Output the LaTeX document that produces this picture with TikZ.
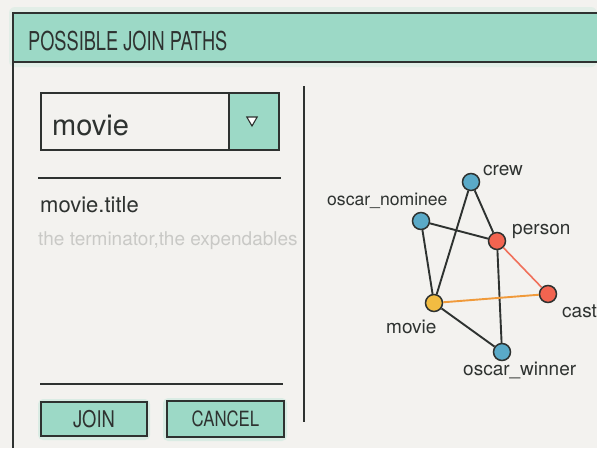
\documentclass[tikz,border=0pt]{standalone}
\usepackage{fontspec}
\newfontfamily\handfont{TeX Gyre Heros}
\newfontfamily\handnarrow[FakeStretch=0.8]{TeX Gyre Heros}
\newfontfamily\handtitle[FakeStretch=0.7]{TeX Gyre Heros}
\usetikzlibrary{shapes.geometric}

\definecolor{paper}{HTML}{F3F2EF}
\definecolor{inkc}{HTML}{2E3230}
\definecolor{teal}{HTML}{9CD9C6}
\definecolor{tealwash}{HTML}{C3E7DA}
\definecolor{greytext}{HTML}{C9C9C6}
\definecolor{tblblue}{HTML}{5AAAC8}
\definecolor{tblred}{HTML}{F26450}
\definecolor{tblyellow}{HTML}{F2BC42}
\definecolor{edgered}{HTML}{F0705A}
\definecolor{edgeorange}{HTML}{F09A3A}

\begin{document}
\begin{tikzpicture}[x=1pt, y=-1pt,
  ink/.style={draw=inkc, line width=1.6pt},
  thinink/.style={draw=inkc, line width=1.3pt},
  tbl/.style={circle, draw=inkc, line width=1.5pt, minimum size=17pt, inner sep=0pt},
  lbl/.style={font=\handfont\fontsize{19}{22}\selectfont, text=inkc, inner sep=0pt, anchor=base west},
  edge/.style={draw=inkc, line width=1.9pt},
  btnbox/.style={draw=inkc, line width=1.5pt, fill=teal, inner sep=0pt},
  btntext/.style={font=\handnarrow\fontsize{23}{26}\selectfont, text=inkc, inner sep=0pt}
]
% page
\useasboundingbox (0,0) rectangle (597,448);
\fill[paper] (0,0) rectangle (597,448);

% header band with a soft wash around it
\fill[tealwash, opacity=0.35, rounded corners=6pt] (9,7) rectangle (597,67);
\fill[teal] (13,13) rectangle (597,62);
\draw[ink] (13,448) -- (13,13) -- (597,13);
\draw[ink] (13,62) -- (597,62);
\node (title) [font=\handtitle\fontsize{26}{30}\selectfont, text=inkc, inner sep=0pt, anchor=base west]
  at (28,50) {POSSIBLE JOIN PATHS};

% table selector
\fill[teal, rounded corners=2pt] (229,93) rectangle (279,150);
\draw[thinink] (41,93) rectangle (279,150);
\draw[thinink] (229,93) -- (229,150);
\node (choice) [font=\handfont\fontsize{29}{32}\selectfont, text=inkc, inner sep=0pt, anchor=base west]
  at (52,135) {movie};
\node (dropdown) [regular polygon, regular polygon sides=3, shape border rotate=180,
  draw=inkc, line width=1.1pt, fill=white, minimum size=12pt, inner sep=0pt] at (252,120) {};

% column preview
\draw[ink] (38,178) -- (281,178);
\node (column) [font=\handfont\fontsize{22}{26}\selectfont, text=inkc, inner sep=0pt, anchor=base west]
  at (40,212) {movie.title};
\node (values) [font=\handfont\fontsize{19}{22}\selectfont, text=greytext, inner sep=0pt, anchor=base west]
  at (38,245) {the terminator,the expendables};

% divider between the form and the graph
\draw[ink] (304,86) -- (304,422);

% buttons
\draw[ink] (40,384) -- (283,384);
\fill[tealwash, opacity=0.5, rounded corners=5pt] (38,399) rectangle (150,440);
\fill[tealwash, opacity=0.5, rounded corners=5pt] (163,398) rectangle (287,441);
\node (join) [btnbox, minimum width=106pt, minimum height=34pt] at (94,419) {};
\node (cancel) [btnbox, minimum width=117pt, minimum height=36pt] at (225.5,419) {};
\node [btntext] at (join.center) {JOIN};
\node [btntext, font=\handnarrow\fontsize{21}{24}\selectfont] at (cancel.center) {CANCEL};

% join graph
\node (crew)    [tbl, fill=tblblue]   at (471,182) {};
\node (nominee) [tbl, fill=tblblue]   at (421,221) {};
\node (person)  [tbl, fill=tblred]    at (497,241) {};
\node (cast)    [tbl, fill=tblred]    at (548,294) {};
\node (movie)   [tbl, fill=tblyellow] at (434,303) {};
\node (winner)  [tbl, fill=tblblue]   at (502,352) {};

\draw[edge] (crew) -- (movie);
\draw[edge] (crew) -- (person);
\draw[edge] (nominee) -- (person);
\draw[edge] (nominee) -- (movie);
\draw[edge] (movie) -- (winner);
\draw[edge] (person) -- (winner);
\draw[draw=edgered, line width=1.6pt] (person) -- (cast);
\draw[draw=edgeorange, line width=1.9pt] (movie) -- (cast);

\node (crewlbl)    [lbl] at (483,175) {crew};
\node (nomineelbl) [lbl, font=\handfont\fontsize{17.6}{20}\selectfont] at (327,205) {oscar\_nominee};
\node (personlbl)  [lbl] at (512,234) {person};
\node (castlbl)    [lbl] at (562,317) {cast};
\node (movielbl)   [lbl] at (386,333) {movie};
\node (winnerlbl)  [lbl] at (463,375) {oscar\_winner};
\end{tikzpicture}
\end{document}
